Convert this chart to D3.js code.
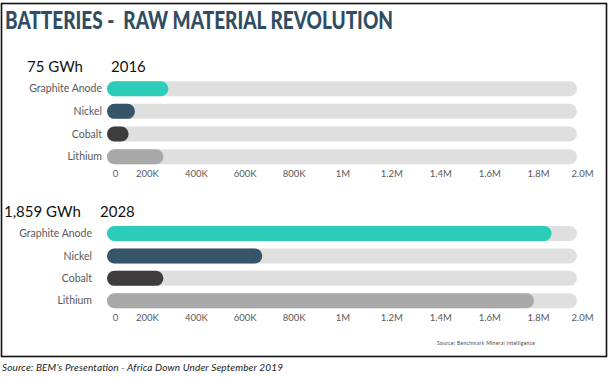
<!DOCTYPE html>
<html lang="en">
<head>
<meta charset="UTF-8">
<title>Batteries - Raw Material Revolution</title>
<script src="https://d3js.org/d3.v7.min.js"></script>
<style>
    body { margin: 0; background: #fff; }
    svg { display: block; font-family: Lato, "Open Sans", sans-serif; }
</style>
</head>
<body>
<svg width="616" height="378"></svg>
<script>
    // data
    var materials = ["Graphite Anode", "Nickel", "Cobalt", "Lithium"];
    var values2016 = [261000, 119000, 92000, 240000];
    var values2028 = [1892000, 661000, 240000, 1817000];
    var tickValues = [0, 200000, 400000, 600000, 800000, 1000000, 1200000, 1400000, 1600000, 1800000, 2000000];
    var tickLabels = ["0", "200K", "400K", "600K", "800K", "1M", "1.2M", "1.4M", "1.6M", "1.8M", "2.0M"];
    var colors = ["#2bcdb9", "#365568", "#3e3c3d", "#a9a9a9"];

    var svg = d3.select("svg");

    // frame
    svg.append("rect")
        .attr("x", 1.5).attr("y", 3.5)
        .attr("width", 605).attr("height", 353)
        .attr("fill", "none")
        .attr("stroke", "#111")
        .attr("stroke-width", 1.6);

    svg.append("text")
        .attr("x", 5).attr("y", 29)
        .attr("font-size", 24)
        .attr("font-weight", 900)
        .attr("fill", "#2f4d63")
        .attr("textLength", 388)
        .attr("lengthAdjust", "spacingAndGlyphs")
        .style("white-space", "pre")
        .text("BATTERIES -  RAW MATERIAL REVOLUTION");

    var xBar = d3.scaleLinear().domain([0, 2000000]).range([107, 577]);
    var xTick = d3.scaleLinear().domain([0, 2000000]).range([98, 587]);

    var panels = [
        { gwh: "75 GWh", gwhX: 27, year: "2016", yearX: 111, headY: 72, values: values2016,
          rows: [88.7, 156.7], labelX: 102, axisY: 178.5 },
        { gwh: "1,859 GWh", gwhX: 4, year: "2028", yearX: 100, headY: 217, values: values2028,
          rows: [233.5, 300.8], labelX: 92, axisY: 322.5 }
    ];

    panels.forEach(function(p) {
        var g = svg.append("g");
        var y = d3.scalePoint().domain(materials).range(p.rows);
        var barH = 15;

        g.append("text")
            .attr("x", p.gwhX).attr("y", p.headY)
            .attr("font-size", 15).attr("fill", "#111")
            .text(p.gwh);
        g.append("text")
            .attr("x", p.yearX).attr("y", p.headY)
            .attr("font-size", 15).attr("fill", "#111")
            .text(p.year);

        // background tracks
        g.selectAll("rect.track")
            .data(materials)
            .enter().append("rect")
            .attr("class", "track")
            .attr("x", xBar(0))
            .attr("y", function(d) { return y(d) - barH / 2; })
            .attr("width", xBar(2000000) - xBar(0))
            .attr("height", barH)
            .attr("rx", barH / 2)
            .attr("fill", "#dfdfdf");

        g.selectAll("rect.bar")
            .data(materials)
            .enter().append("rect")
            .attr("class", "bar")
            .attr("x", xBar(0))
            .attr("y", function(d) { return y(d) - barH / 2; })
            .attr("width", function(d, i) { return xBar(p.values[i]) - xBar(0); })
            .attr("height", barH)
            .attr("rx", barH / 2)
            .attr("fill", function(d, i) { return colors[i]; });

        g.selectAll("text.cat")
            .data(materials)
            .enter().append("text")
            .attr("class", "cat")
            .attr("x", p.labelX)
            .attr("y", function(d) { return y(d); })
            .attr("dy", "0.35em")
            .attr("text-anchor", "end")
            .attr("font-size", 10.5)
            .attr("fill", "#595959")
            .text(function(d) { return d; });

        var axis = d3.axisBottom(xTick)
            .tickValues(tickValues)
            .tickSize(0)
            .tickPadding(0)
            .tickFormat(function(d, i) { return tickLabels[i]; });

        var ax = g.append("g")
            .attr("transform", "translate(0," + (p.axisY - 8) + ")")
            .call(axis);
        ax.select(".domain").remove();
        ax.selectAll("text")
            .attr("font-family", "Lato, 'Open Sans', sans-serif")
            .attr("font-size", 9.5)
            .attr("fill", "#595959")
            .attr("dx", function(d, i) {
                if (i === 0) return 17;
                if (i === tickValues.length - 1) return -5;
                return 0;
            });
    });

    svg.append("text")
        .attr("x", 437).attr("y", 345)
        .attr("font-size", 5)
        .attr("fill", "#444")
        .attr("textLength", 98)
        .text("Source: Benchmark Mineral Intelligence");

    svg.append("text")
        .attr("x", 2).attr("y", 371)
        .attr("font-size", 10)
        .attr("font-style", "italic")
        .attr("fill", "#222")
        .attr("textLength", 281)
        .text("Source: BEM\u2019s Presentation - Africa Down Under September 2019");
</script>
</body>
</html>
